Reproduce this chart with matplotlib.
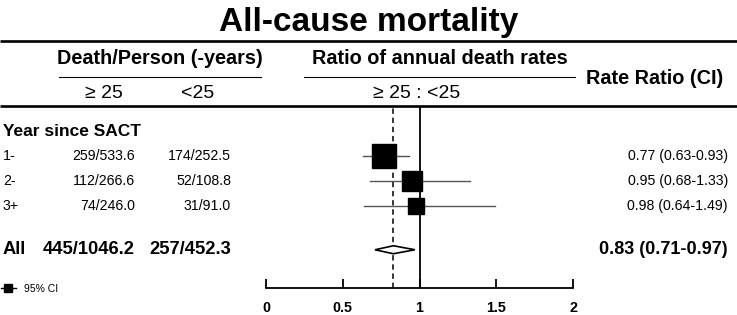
import matplotlib
matplotlib.use("Agg")
import matplotlib.pyplot as plt
from matplotlib.lines import Line2D
from matplotlib.patches import Polygon

# ---------------- data ----------------
title = "All-cause mortality"
group_label = "Year since SACT"
categories = ["1-", "2-", "3+"]
deaths_ge25 = ["259/533.6", "112/266.6", "74/246.0"]
deaths_lt25 = ["174/252.5", "52/108.8", "31/91.0"]
rr = [0.77, 0.95, 0.98]
rr_lo = [0.63, 0.68, 0.64]
rr_hi = [0.93, 1.33, 1.49]
all_label = "All"
all_ge25 = "445/1046.2"
all_lt25 = "257/452.3"
all_rr, all_lo, all_hi = 0.83, 0.71, 0.97
xticks = [0, 0.5, 1, 1.5, 2]
xtick_labels = ["0", "0.5", "1", "1.5", "2"]

# ---------------- style ----------------
W, H = 737, 315
DPI = 100
box_sizes = [17.3, 13.7, 11.5]   # marker sizes (pt)
ci_color = "#555555"

plt.rcParams["font.family"] = ["Liberation Sans", "DejaVu Sans"]

fig = plt.figure(figsize=(W / DPI, H / DPI), dpi=DPI)

# overlay axes in pixel coordinates for table text / rules
ax0 = fig.add_axes([0, 0, 1, 1])
ax0.set_xlim(0, W)
ax0.set_ylim(H, 0)
ax0.axis("off")

# forest axes: x 0..2 maps to pixels 266..573, y pixels 106..288
x0p, x1p, y0p, y1p = 266, 573, 106, 288
ax = fig.add_axes([x0p / W, 1 - y1p / H, (x1p - x0p) / W, (y1p - y0p) / H])
row0_px, row_step = 131, 25.0  # row index 0 ('Year since') at pixel 131
ax.set_xlim(0, 2)
ax.set_ylim((y1p - row0_px) / row_step, (y0p - row0_px) / row_step)
for s in ["top", "left", "right"]:
    ax.spines[s].set_visible(False)
ax.spines["bottom"].set_linewidth(1.3)
ax.set_yticks([])
ax.set_xticks(xticks)
ax.set_xticklabels(xtick_labels, fontweight="bold", fontsize=10.3)
ax.tick_params(axis="x", direction="in", length=6.5, width=1.3, pad=9.5)
ax.patch.set_alpha(0)

def ypx(idx):
    return row0_px + row_step * idx

# title
ax0.text(W / 2, 31, title, ha="center", va="baseline", fontsize=24,
         fontweight="bold")

# header rules
ax0.plot([0, W], [40.5, 40.5], color="black", lw=1.9, solid_capstyle="butt")
ax0.plot([0, W], [105.5, 105.5], color="black", lw=1.9, solid_capstyle="butt")
ax0.plot([59, 261], [77, 77], color="black", lw=0.8)
ax0.plot([304, 575], [77, 77], color="black", lw=0.8)

hdr = dict(fontsize=14.3, fontweight="bold", va="center")
ax0.text(160, 59, "Death/Person (-years)", ha="center", **hdr)
ax0.text(440, 59, "Ratio of annual death rates", ha="center", **hdr)
ax0.text(655, 78, "Rate Ratio (CI)", ha="center", **hdr)
sub = dict(fontsize=14, va="center")
ax0.text(104, 94, "\u2265 25", ha="center", **sub)
ax0.text(198, 94, "<25", ha="center", **sub)
ax0.text(417, 94, "\u2265 25 : <25", ha="center", **sub)

# group label
ax0.text(3, ypx(0), group_label, ha="left", va="center", fontsize=12.5, fontweight="bold")

# rows
for i, cat in enumerate(categories):
    y = i + 1
    ax0.text(3, ypx(y), cat, ha="left", va="center", fontsize=10.2)
    ax0.text(135, ypx(y), deaths_ge25[i], ha="right", va="center", fontsize=10.2)
    ax0.text(231, ypx(y), deaths_lt25[i], ha="right", va="center", fontsize=10.2)
    ax0.text(728, ypx(y), f"{rr[i]:.2f} ({rr_lo[i]:.2f}-{rr_hi[i]:.2f})",
             ha="right", va="center", fontsize=10.2)
    ax.plot([rr_lo[i], rr_hi[i]], [y, y], color=ci_color, lw=1.0, zorder=2)
    ax.plot([rr[i]], [y], marker="s", ms=box_sizes[i], color="black", zorder=3)

y_all = 4.75
ax0.text(3, ypx(y_all), all_label, ha="left", va="center", fontsize=13.2, fontweight="bold")
ax0.text(135, ypx(y_all), all_ge25, ha="right", va="center", fontsize=13.2, fontweight="bold")
ax0.text(231, ypx(y_all), all_lt25, ha="right", va="center", fontsize=13.2, fontweight="bold")
ax0.text(728, ypx(y_all), f"{all_rr:.2f} ({all_lo:.2f}-{all_hi:.2f})",
         ha="right", va="center", fontsize=13, fontweight="bold")

# reference lines
ax.axvline(1, color="black", lw=1.3, zorder=1)
ax.axvline(all_rr, color="black", lw=1.1, ls=(0, (3.5, 2.5)), zorder=1)

# diamond for pooled estimate
h = 0.16
diamond = Polygon([[all_lo, y_all], [all_rr, y_all - h], [all_hi, y_all], [all_rr, y_all + h]],
                  closed=True, facecolor="white", edgecolor="black", lw=1.2, zorder=4)
ax.add_patch(diamond)

# legend
handle = Line2D([], [], color="black", lw=1.0, marker="s", ms=6)
fig.legend(handles=[handle], labels=["95% CI"], loc="center left",
           bbox_to_anchor=(0.0, 1 - 289 / H), frameon=False, fontsize=7.5,
           handlelength=1.4, handletextpad=0.8, borderpad=0, borderaxespad=0.1)

fig.savefig("out.png", dpi=DPI)
